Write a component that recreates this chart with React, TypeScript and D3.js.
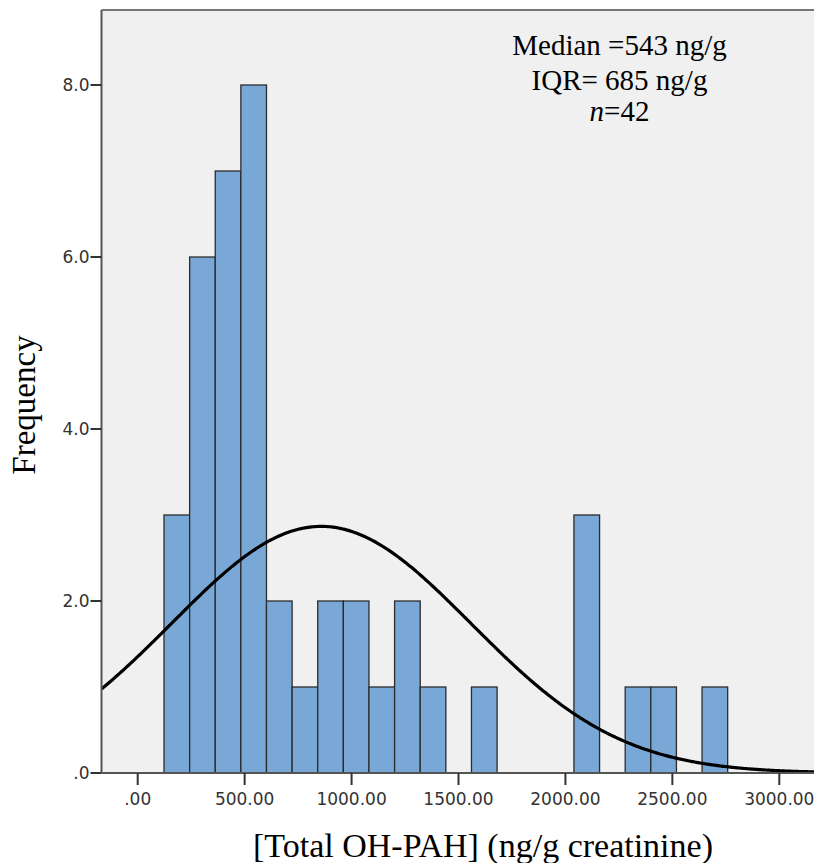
import React from "react";
import * as d3 from "d3";

const binStart = 123;
const binWidth = 119.8;
const binCounts = [3, 6, 7, 8, 2, 1, 2, 2, 1, 2, 1, 0, 1, 0, 0, 0, 3, 0, 1, 1, 0, 1];
const yTicks = [0, 2, 4, 6, 8];
const yTickLabels = [".0", "2.0", "4.0", "6.0", "8.0"];
const xTicks = [0, 500, 1000, 1500, 2000, 2500, 3000];
const xTickLabels = [".00", "500.00", "1000.00", "1500.00", "2000.00", "2500.00", "3000.00"];
const fitMean = 858;
const fitSD = 700;
const nObs = 42;
const annotation = ["Median =543 ng/g", "IQR= 685 ng/g"];

export default function App() {
  const W = 814, H = 863;
  const left = 101.5, right = 814, top = 10, bottom = 773;
  const x = d3.scaleLinear().domain([0, 3000]).range([137.7, 779.3]);
  const y = d3.scaleLinear().domain([0, 8]).range([773, 85]);
  const x0 = x.invert(left), x1 = x.invert(right);

  const bins = binCounts.map((c, i) => ({ x0: binStart + i * binWidth, x1: binStart + (i + 1) * binWidth, c }));
  const dens = (v: number) =>
    (nObs * binWidth) / (fitSD * Math.sqrt(2 * Math.PI)) * Math.exp(-((v - fitMean) ** 2) / (2 * fitSD * fitSD));
  const pts = d3.range(0, 401).map((i) => x0 + ((x1 - x0) * i) / 400);
  const line = d3.line<number>().x((v) => x(v)).y((v) => y(dens(v))).curve(d3.curveBasis);
  const tickFont = "DejaVu Sans, Verdana, sans-serif";
  const serif = "Liberation Serif, Times New Roman, serif";

  return (
    <svg width={W} height={H} style={{ position: "absolute", left: 0, top: 0 }}>
      <defs>
        <clipPath id="pa">
          <rect x={left} y={top} width={right - left} height={bottom - top} />
        </clipPath>
      </defs>
      <rect x={left} y={top} width={right - left} height={bottom - top} fill="#f0f0f0" />
      {bins.filter((b) => b.c > 0).map((b, i) => (
        <rect key={i} x={x(b.x0)} y={y(b.c)} width={x(b.x1) - x(b.x0)} height={y(0) - y(b.c)}
          fill="#79a8d6" stroke="#2b2b2b" strokeWidth={1.3} />
      ))}
      <path d={line(pts) || ""} fill="none" stroke="#000" strokeWidth={3.2} clipPath="url(#pa)" />
      <line x1={left} x2={right} y1={top} y2={top} stroke="#777" strokeWidth={2} />
      <line x1={left} x2={left} y1={top} y2={bottom} stroke="#555" strokeWidth={2} />
      <line x1={left} x2={right} y1={bottom} y2={bottom} stroke="#555" strokeWidth={2} />
      {yTicks.map((t, i) => (
        <g key={t}>
          <line x1={left - 11} x2={left} y1={y(t)} y2={y(t)} stroke="#333" strokeWidth={2} />
          <text x={left - 12} y={y(t)} dy="0.36em" textAnchor="end" fontFamily={tickFont} fontSize={17} fill="#333">{yTickLabels[i]}</text>
        </g>
      ))}
      {xTicks.map((t, i) => (
        <g key={t}>
          <line x1={x(t)} x2={x(t)} y1={bottom} y2={bottom + 12} stroke="#333" strokeWidth={2} />
          <text x={x(t)} y={805} textAnchor="middle" fontFamily={tickFont} fontSize={17} fill="#333">{xTickLabels[i]}</text>
        </g>
      ))}
      <text x={483} y={857} textAnchor="middle" fontFamily={serif} fontSize={34} fill="#000">[Total OH-PAH] (ng/g creatinine)</text>
      <text transform="translate(35,405) rotate(-90)" textAnchor="middle" fontFamily={serif} fontSize={33} fill="#000">Frequency</text>
      <g fontFamily={serif} fontSize={29} fill="#000" textAnchor="middle">
        <text x={619.5} y={55}>{annotation[0]}</text>
        <text x={619.5} y={90}>{annotation[1]}</text>
        <text x={619.5} y={121}><tspan fontStyle="italic">n</tspan>={nObs}</text>
      </g>
    </svg>
  );
}
